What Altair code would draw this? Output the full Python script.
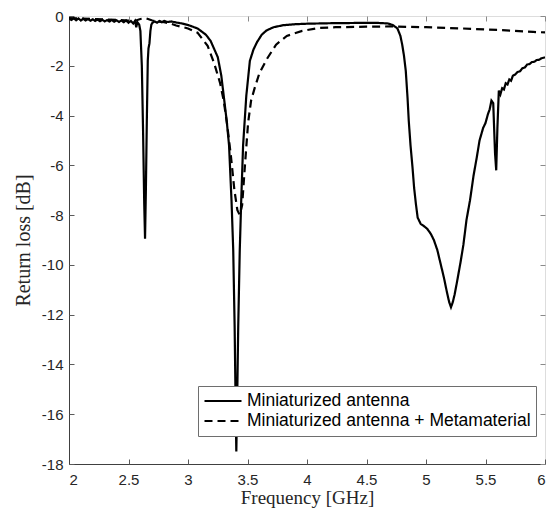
import altair as alt
import pandas as pd

SERIES = ["Miniaturized antenna", "Miniaturized antenna + Metamaterial"]

# Miniaturized antenna (solid): (frequency GHz, return loss dB)
solid_pts = [
    (2.00, -0.10), (2.02, -0.16), (2.04, -0.09), (2.06, -0.17), (2.08, -0.10), (2.10, -0.18),
    (2.12, -0.11), (2.14, -0.18), (2.16, -0.12), (2.18, -0.19), (2.20, -0.13), (2.22, -0.20),
    (2.24, -0.14), (2.26, -0.21), (2.28, -0.15), (2.30, -0.22), (2.32, -0.16), (2.34, -0.22),
    (2.36, -0.16), (2.38, -0.23), (2.40, -0.17), (2.42, -0.24), (2.44, -0.18), (2.46, -0.25),
    (2.48, -0.18), (2.50, -0.27), (2.52, -0.20), (2.54, -0.30), (2.555, -0.20), (2.565, -0.45),
    (2.575, -0.25), (2.59, -0.35), (2.60, -0.60), (2.612, -2.0), (2.622, -4.5), (2.632, -7.5),
    (2.639, -8.95), (2.646, -7.0), (2.654, -4.2), (2.662, -1.8), (2.668, -1.3), (2.676, -1.1),
    (2.684, -0.6), (2.692, -0.35), (2.70, -0.28), (2.72, -0.22), (2.74, -0.27), (2.76, -0.20),
    (2.78, -0.25), (2.80, -0.20), (2.83, -0.24), (2.86, -0.22), (2.90, -0.26), (2.95, -0.30),
    (3.00, -0.36), (3.08, -0.50), (3.15, -0.75), (3.19, -1.0), (3.25, -1.65), (3.28, -2.4),
    (3.30, -3.2), (3.325, -4.2), (3.345, -5.2), (3.366, -7.45), (3.38, -9.4), (3.392, -12.5),
    (3.40, -15.5), (3.406, -17.5), (3.413, -15.5), (3.422, -12.5), (3.435, -9.4), (3.447, -7.45),
    (3.463, -5.2), (3.49, -3.2), (3.52, -1.8), (3.55, -1.35), (3.58, -1.05), (3.62, -0.75),
    (3.66, -0.58), (3.72, -0.45), (3.80, -0.37), (3.90, -0.33), (4.00, -0.31), (4.20, -0.29),
    (4.40, -0.28), (4.60, -0.28), (4.68, -0.30), (4.72, -0.36), (4.76, -0.50), (4.785, -0.80),
    (4.80, -1.15), (4.815, -1.6), (4.83, -2.2), (4.845, -3.3), (4.855, -4.2), (4.87, -5.2),
    (4.887, -6.1), (4.90, -6.9), (4.915, -7.55), (4.93, -8.1), (4.955, -8.35), (4.985, -8.45),
    (5.01, -8.55), (5.04, -8.75), (5.066, -9.0), (5.095, -9.4), (5.12, -9.9), (5.15, -10.5),
    (5.176, -11.1), (5.195, -11.5), (5.21, -11.7), (5.225, -11.5), (5.24, -11.2), (5.26, -10.7),
    (5.29, -9.9), (5.314, -9.2), (5.34, -8.2), (5.37, -7.4), (5.40, -6.4), (5.426, -5.7),
    (5.45, -5.0), (5.48, -4.5), (5.50, -4.3), (5.52, -3.95), (5.535, -3.75), (5.55, -3.4),
    (5.565, -3.5), (5.58, -5.5), (5.59, -6.2), (5.60, -4.5), (5.612, -3.0), (5.625, -3.15),
    (5.64, -2.9), (5.655, -2.95), (5.67, -2.7), (5.685, -2.75), (5.70, -2.55), (5.715, -2.6),
    (5.73, -2.4), (5.75, -2.35), (5.77, -2.25), (5.79, -2.22), (5.81, -2.10), (5.83, -2.07),
    (5.85, -1.95), (5.87, -1.93), (5.89, -1.85), (5.91, -1.84), (5.93, -1.77), (5.95, -1.76),
    (5.97, -1.70), (6.00, -1.66),
]

# Miniaturized antenna + Metamaterial (dashed)
dashed_pts = [
    (2.00, -0.08), (2.10, -0.10), (2.20, -0.12), (2.30, -0.14), (2.40, -0.16), (2.50, -0.18),
    (2.55, -0.20), (2.60, -0.12), (2.65, -0.10), (2.70, -0.18), (2.75, -0.22), (2.80, -0.25),
    (2.85, -0.30), (2.90, -0.38), (2.95, -0.44), (3.00, -0.50), (3.08, -0.67), (3.165, -1.2),
    (3.22, -1.9), (3.27, -2.7), (3.30, -3.4), (3.33, -4.4), (3.36, -5.6), (3.39, -7.0),
    (3.415, -7.8), (3.435, -8.0), (3.455, -7.6), (3.48, -5.9), (3.505, -4.3), (3.53, -3.4),
    (3.56, -2.9), (3.60, -2.3), (3.66, -1.75), (3.74, -1.15), (3.83, -0.80), (3.96, -0.60),
    (4.10, -0.48), (4.24, -0.45), (4.50, -0.43), (4.70, -0.42), (5.00, -0.45), (5.30, -0.50),
    (5.60, -0.56), (5.90, -0.64), (6.00, -0.66),
]

x_ticks = [2, 2.5, 3, 3.5, 4, 4.5, 5, 5.5, 6]
y_ticks = [-18, -16, -14, -12, -10, -8, -6, -4, -2, 0]

df = pd.concat([
    pd.DataFrame(solid_pts, columns=["f", "db"]).assign(series=SERIES[0]),
    pd.DataFrame(dashed_pts, columns=["f", "db"]).assign(series=SERIES[1]),
], ignore_index=True)

W, H = 476, 448
xscale = alt.Scale(domain=[2, 6], nice=False, zero=False)
yscale = alt.Scale(domain=[-18, 0], nice=False, zero=False)
ylabel = "datum.value < 0 ? '-' + abs(datum.value) : '' + datum.value"
xlabel = "'' + datum.value"

base = alt.Chart(df)

main = base.mark_line(color="black", strokeWidth=2.2, clip=True).encode(
    x=alt.X("f:Q", scale=xscale, axis=alt.Axis(
        orient="bottom", values=x_ticks, labelExpr=xlabel, ticks=False, tickSize=0,
        domain=True, domainColor="#404040", domainWidth=1, grid=False,
        labelFont="Liberation Sans", labelFontSize=15, labelColor="#262626", labelPadding=8,
        title="Frequency [GHz]", titleFont="Liberation Serif", titleFontSize=19,
        titleFontWeight="normal", titleColor="#262626", titleBaseline="top", titleY=24)),
    y=alt.Y("db:Q", scale=yscale, axis=alt.Axis(
        orient="left", values=y_ticks, labelExpr=ylabel, ticks=False, tickSize=0,
        domain=True, domainColor="#404040", domainWidth=1, grid=False,
        labelFont="Liberation Sans", labelFontSize=15, labelColor="#262626", labelPadding=6,
        title="Return loss [dB]", titleFont="Liberation Serif", titleFontSize=20,
        titleFontWeight="normal", titleColor="#262626", titleX=-46, titleY=H / 2,
        titleAlign="center", titleBaseline="middle", titleAngle=270)),
    strokeDash=alt.StrokeDash("series:N", scale=alt.Scale(domain=SERIES, range=[[1, 0], [8, 5]]),
        legend=alt.Legend(orient="none", legendX=129, legendY=370, title=None,
                          symbolType="stroke", symbolSize=1369, symbolStrokeWidth=2.2,
                          symbolStrokeColor="black", labelFont="Liberation Sans",
                          labelFontSize=17.5, labelColor="black", labelOffset=4,
                          labelLimit=500, padding=5, rowPadding=0, clipHeight=20,
                          strokeColor="#6e6e6e", fillColor="white")),
)

ticks_in = base.mark_line(strokeOpacity=0).encode(
    x=alt.X("f:Q", scale=xscale, axis=alt.Axis(
        orient="bottom", values=x_ticks, labels=False, domain=False, grid=False, title=None,
        ticks=True, tickSize=5, offset=-5, tickColor="#5a5a5a")),
    y=alt.Y("db:Q", scale=yscale, axis=alt.Axis(
        orient="left", values=y_ticks, labels=False, domain=False, grid=False, title=None,
        ticks=True, tickSize=5, offset=-5, tickColor="#5a5a5a")),
)

ticks_tr = base.mark_line(strokeOpacity=0).encode(
    x=alt.X("f:Q", scale=xscale, axis=alt.Axis(
        orient="top", values=x_ticks, labels=False, domain=False, grid=False, title=None,
        ticks=True, tickSize=5, offset=-5, tickColor="#8a8a8a")),
    y=alt.Y("db:Q", scale=yscale, axis=alt.Axis(
        orient="right", values=y_ticks, labels=False, domain=False, grid=False, title=None,
        ticks=True, tickSize=5, offset=-5, tickColor="#8a8a8a")),
)

chart = alt.layer(main, ticks_in, ticks_tr).resolve_axis(
    x="independent", y="independent"
).properties(
    width=W, height=H,
    autosize=alt.AutoSizeParams(type="none"),
    padding={"left": 61, "top": 8, "right": 1, "bottom": 44},
).configure_view(stroke="#a0a0a0", strokeWidth=1).configure(background="white")

chart.save("out.html", embed_options={"renderer": "svg", "actions": False})
